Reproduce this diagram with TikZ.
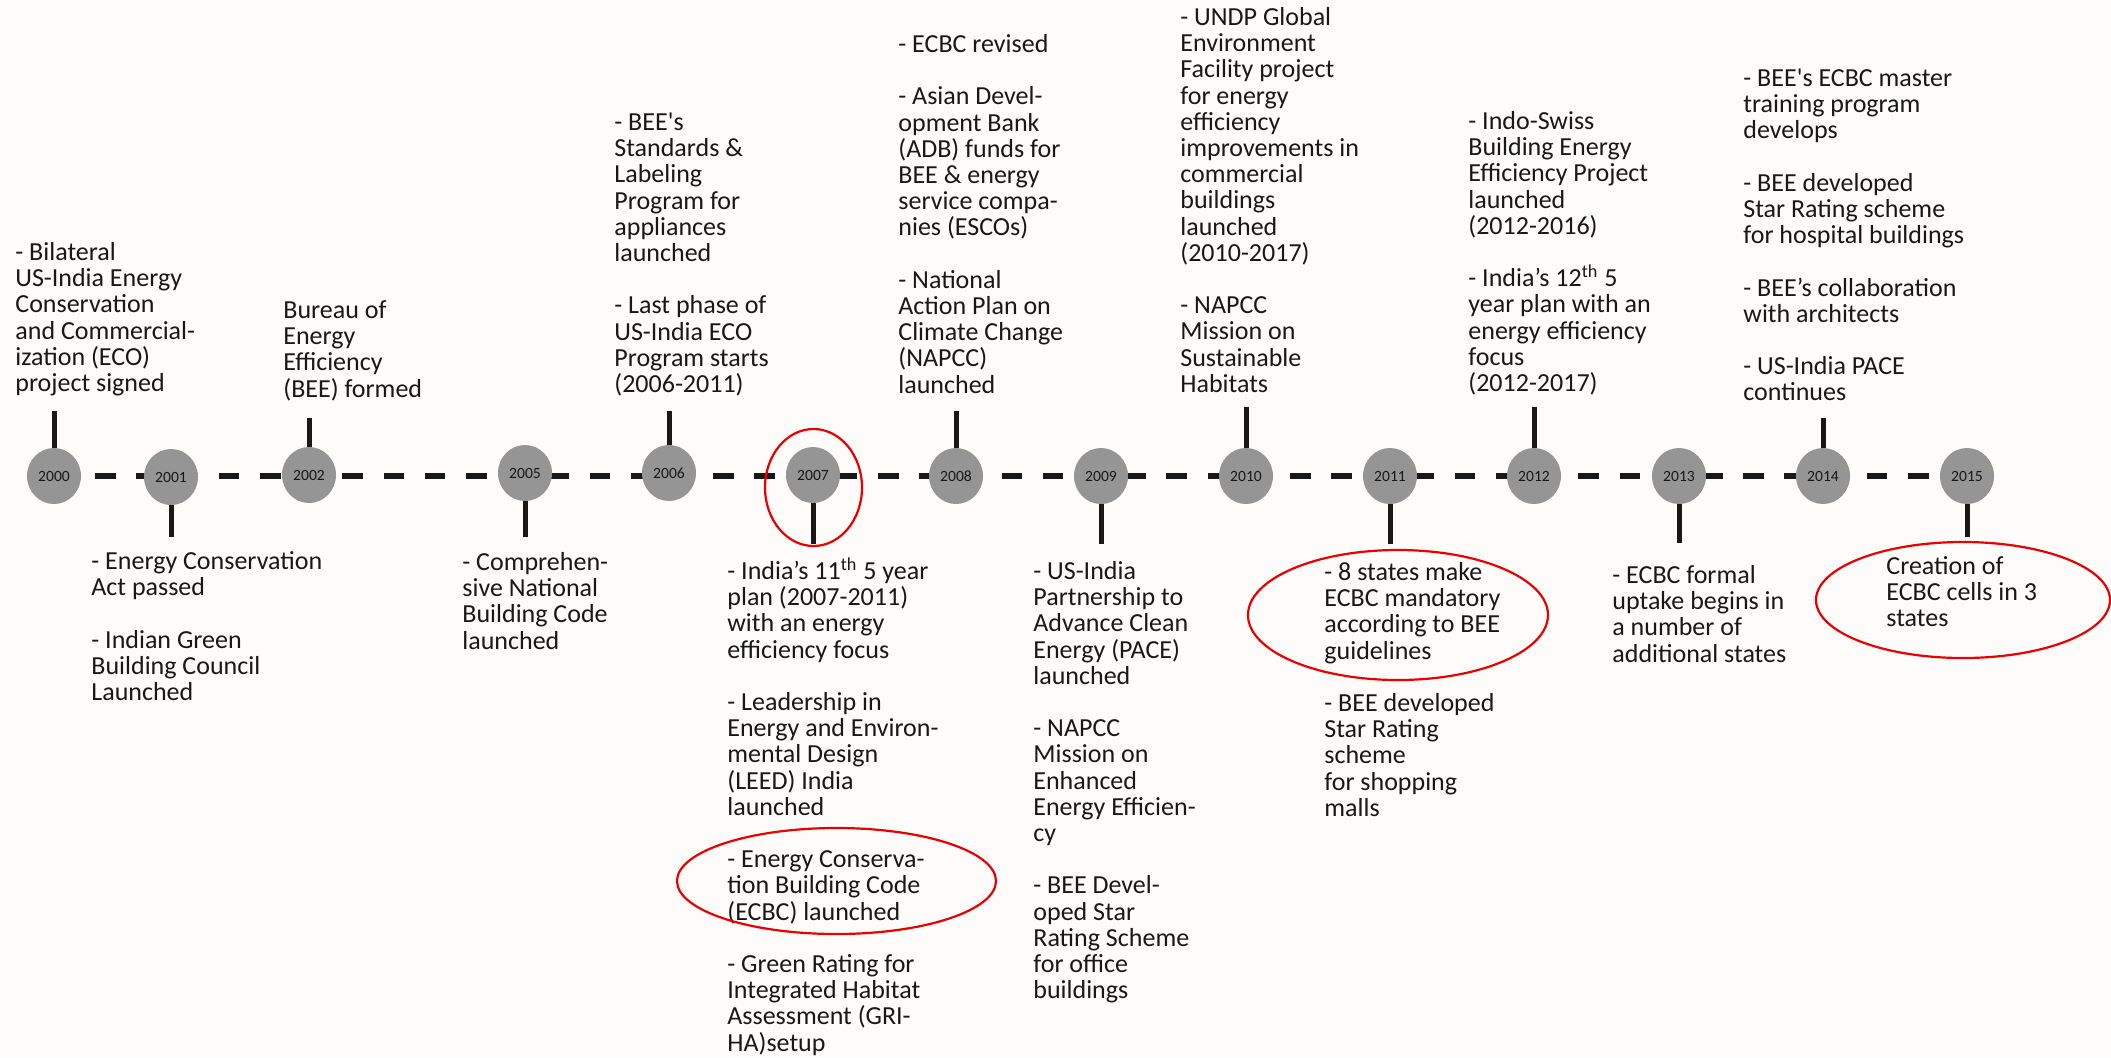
\documentclass[tikz,border=0pt]{standalone}
\usepackage{fontspec}
\setmainfont{Carlito}
\usetikzlibrary{shapes.geometric,backgrounds}
\definecolor{bgc}{RGB}{253,252,250}
\definecolor{circg}{RGB}{148,149,148}
\definecolor{ink}{RGB}{24,24,24}
\definecolor{ringred}{RGB}{232,0,0}
\newcommand{\gapskip}{13.1pt}
\newcommand{\tightls}{\lineskiplimit=-20pt\relax}
\newcommand{\sq}{\textquotesingle}
\begin{document}
\begin{tikzpicture}[x=0.5pt,y=-0.5pt,
  yr/.style={ellipse, fill=circg, inner sep=0, minimum width=27pt, minimum height=28pt,
     font=\fontsize{7.8}{9}\selectfont, text=ink},
  txt/.style={anchor=north west, inner sep=0, align=left,
     font=\fontsize{13}{13.1}\selectfont\tightls, text=ink},
  tickln/.style={draw=ink, line width=2.5pt},
  dashln/.style={draw=ink, line width=3.2pt, dash pattern=on 10.3pt off 10.3pt},
  ring/.style={draw=ringred, line width=1.1pt}]
\useasboundingbox (0,0) rectangle (2111,1057);
\begin{scope}[on background layer]
  \fill[bgc] (0,0) rectangle (2111,1057);
\end{scope}

% year circles
\node[yr] (y2000) at (54,476) {2000};
\node[yr] (y2001) at (171,477) {2001};
\node[yr] (y2002) at (309,475) {2002};
\node[yr] (y2005) at (525,473) {2005};
\node[yr] (y2006) at (669,473) {2006};
\node[yr] (y2007) at (813,475) {2007};
\node[yr] (y2008) at (956,476) {2008};
\node[yr] (y2009) at (1101,476) {2009};
\node[yr] (y2010) at (1246,476) {2010};
\node[yr] (y2011) at (1390,476) {2011};
\node[yr] (y2012) at (1534,476) {2012};
\node[yr] (y2013) at (1679,476) {2013};
\node[yr] (y2014) at (1823,476) {2014};
\node[yr] (y2015) at (1967,476) {2015};

% dashed time line behind the circles
\begin{scope}[on background layer]
  \draw[dashln] (y2000.center) -- (y2015.center);
\end{scope}

% tick ends
\coordinate (t2000) at (54,411);
\coordinate (t2002) at (309,418);
\coordinate (t2006) at (669,411);
\coordinate (t2008) at (956,411);
\coordinate (t2010) at (1246,407);
\coordinate (t2012) at (1534,407);
\coordinate (t2014) at (1823,418);
\coordinate (t2001) at (171,537);
\coordinate (t2005) at (525,537);
\coordinate (t2007) at (813,544);
\coordinate (t2009) at (1101,544);
\coordinate (t2011) at (1390,544);
\coordinate (t2013) at (1679,543);
\coordinate (t2015) at (1967,537);

\foreach \yy in {2000,2002,2006,2008,2010,2012,2014}
  \draw[tickln] (y\yy.north) -- (t\yy);
\foreach \yy in {2001,2005,2007,2009,2011,2013,2015}
  \draw[tickln] (y\yy.south) -- (t\yy);

% texts above the line
\node[txt] (n2000) at (15,241.7) {\strut- Bilateral\\US-India Energy\\Conservation\\and Commercial-\\ization (ECO)\\project signed};
\node[txt] (n2002) at (283,299.7) {\strut Bureau of\\Energy\\Efficiency\\(BEE) formed};
\node[txt] (n2006) at (614,111.7) {\strut- BEE\sq s\\Standards \&\\Labeling\\Program for\\appliances\\launched\\[\gapskip]- Last phase of\\US-India ECO\\Program starts\\(2006-2011)};
\node[txt] (n2008) at (898,33.7) {\strut- ECBC revised\\[\gapskip]- Asian Devel-\\opment Bank\\(ADB) funds for\\BEE \& energy\\service compa-\\nies (ESCOs)\\[\gapskip]- National\\Action Plan on\\Climate Change\\(NAPCC)\\launched};
\node[txt] (n2010) at (1180,6.7) {\strut- UNDP Global\\Environment\\Facility project\\for energy\\efficiency\\improvements in\\commercial\\buildings\\launched\\(2010-2017)\\[\gapskip]- NAPCC\\Mission on\\Sustainable\\Habitats};
\node[txt] (n2012) at (1468,110.7) {\strut- Indo-Swiss\\Building Energy\\Efficiency Project\\launched\\(2012-2016)\\[\gapskip]- India’s 12\smash{\textsuperscript{th}} 5\\year plan with an\\energy efficiency\\focus\\(2012-2017)};
\node[txt] (n2014) at (1743,67.7) {\strut- BEE\sq s ECBC master\\training program\\develops\\[\gapskip]- BEE developed\\Star Rating scheme\\for hospital buildings\\[\gapskip]- BEE’s collaboration\\with architects\\[\gapskip]- US-India PACE\\continues};

% texts below the line
\node[txt] (n2001) at (91,550.7) {\strut- Energy Conservation\\Act passed\\[\gapskip]- Indian Green\\Building Council\\Launched};
\node[txt] (n2005) at (462,551.7) {\strut- Comprehen-\\sive National\\Building Code\\launched};
\node[txt] (n2007) at (727,560.7) {\strut- India’s 11\smash{\textsuperscript{th}} 5 year\\plan (2007-2011)\\with an energy\\efficiency focus\\[\gapskip]- Leadership in\\Energy and Environ-\\mental Design\\(LEED) India\\launched\\[\gapskip]- Energy Conserva-\\tion Building Code\\(ECBC) launched\\[\gapskip]- Green Rating for\\Integrated Habitat\\Assessment (GRI-\\HA)setup};
\node[txt] (n2009) at (1033,560.7) {\strut- US-India\\Partnership to\\Advance Clean\\Energy (PACE)\\launched\\[\gapskip]- NAPCC\\Mission on\\Enhanced\\Energy Efficien-\\cy\\[\gapskip]- BEE Devel-\\oped Star\\Rating Scheme\\for office\\buildings};
\node[txt] (n2011) at (1324,561.7) {\strut- 8 states make\\ECBC mandatory\\according to BEE\\guidelines\\[\gapskip]- BEE developed\\Star Rating\\scheme\\for shopping\\malls};
\node[txt] (n2013) at (1612,564.7) {\strut- ECBC formal\\uptake begins in\\a number of\\additional states};
\node[txt] (n2015) at (1886,555.7) {\strut Creation of\\ECBC cells in 3\\states};

% red highlight rings
\draw[ring] (813.5,487.5) ellipse [x radius=48.5, y radius=58.5];
\draw[ring] (836.5,881) ellipse [x radius=159.5, y radius=53];
\draw[ring] (1398,615) ellipse [x radius=150, y radius=65];
\draw[ring] (1963,600) ellipse [x radius=147, y radius=58];
\end{tikzpicture}
\end{document}
